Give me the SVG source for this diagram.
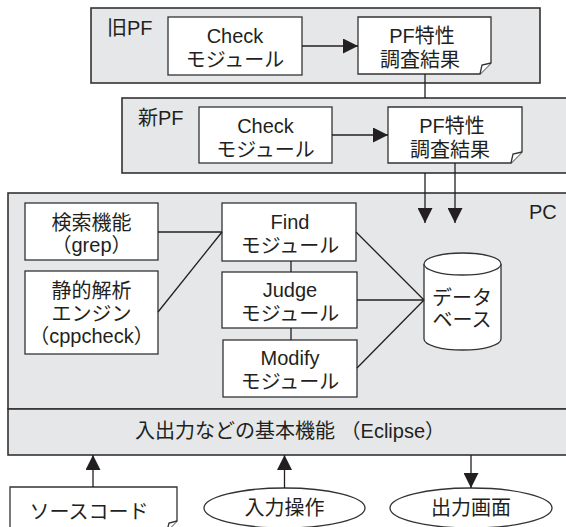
<svg xmlns="http://www.w3.org/2000/svg" width="566" height="527" viewBox="0 0 566 527">
<defs>
<style>
.frame{fill:#e6e7e8;stroke:#333;stroke-width:1.6}
.box{fill:#fff;stroke:#333;stroke-width:1.3}
.t{font-family:"Liberation Sans","Noto Sans CJK JP",sans-serif;font-size:20px;fill:#231f20;text-anchor:middle}
.lbl{text-anchor:start}
.c{fill:none;stroke:#231f20;stroke-width:1.3}
</style>
<marker id="ah" viewBox="0 0 10 10" refX="10" refY="5" markerUnits="userSpaceOnUse" markerWidth="15" markerHeight="15" orient="auto">
<path d="M0,0 L10,5 L0,10 z" fill="#231f20"/>
</marker>
</defs>
<rect width="566" height="527" fill="#fff"/>

<g id="oldpf">
<rect class="frame" x="91" y="8" width="449" height="75"/>
<text class="t lbl" x="107" y="35">旧PF</text>
<g id="oldpf-check">
<rect class="box" x="168" y="17" width="134" height="58"/>
<text class="t" x="235" y="43">Check</text>
<text class="t" x="235" y="67">モジュール</text>
</g>
<g id="oldpf-result">
<path class="box" d="M358,17 H491 V63 L480,74 H358 Z"/>
<path class="box" d="M480,74 L482,65 L491,63"/>
<text class="t" x="422" y="43">PF特性</text>
<text class="t" x="420" y="67">調査結果</text>
</g>
</g>

<g id="newpf">
<rect class="frame" x="122" y="98" width="450" height="75"/>
<text class="t lbl" x="138" y="125">新PF</text>
<g id="newpf-check">
<rect class="box" x="199" y="107" width="133" height="56"/>
<text class="t" x="265.5" y="133">Check</text>
<text class="t" x="265.5" y="157">モジュール</text>
</g>
<g id="newpf-result">
<path class="box" d="M388,107 H522 V152 L511,163 H388 Z"/>
<path class="box" d="M511,163 L513,154 L522,152"/>
<text class="t" x="452" y="133">PF特性</text>
<text class="t" x="450" y="157">調査結果</text>
</g>
</g>

<g id="pc">
<rect class="frame" x="8" y="193" width="564" height="216"/>
<text class="t lbl" x="529" y="219">PC</text>
</g>

<g id="eclipse">
<rect class="frame" x="8" y="409" width="564" height="46"/>
<text class="t" x="290" y="438">入出力などの基本機能 （Eclipse）</text>
</g>

<g id="grep">
<rect class="box" x="25" y="203" width="133" height="57"/>
<text class="t" x="91.5" y="230">検索機能</text>
<text class="t" x="91.5" y="252">（grep）</text>
</g>

<g id="cppcheck">
<rect class="box" x="25" y="271" width="133" height="83"/>
<text class="t" x="91.5" y="298">静的解析</text>
<text class="t" x="91.5" y="321">エンジン</text>
<text class="t" x="91.5" y="343">（cppcheck）</text>
</g>

<g id="find">
<rect class="box" x="222" y="203" width="134" height="58"/>
<text class="t" x="290" y="229">Find</text>
<text class="t" x="290" y="253">モジュール</text>
</g>

<g id="judge">
<rect class="box" x="222" y="272" width="135" height="56"/>
<text class="t" x="290" y="297">Judge</text>
<text class="t" x="290" y="321">モジュール</text>
</g>

<g id="modify">
<rect class="box" x="223" y="340" width="134" height="57"/>
<text class="t" x="290" y="365">Modify</text>
<text class="t" x="290" y="389">モジュール</text>
</g>

<g id="database">
<path class="box" d="M424,264 V339 A38.5,11 0 0 0 501,339 V264"/>
<ellipse class="box" cx="462.5" cy="264" rx="38.5" ry="11"/>
<text class="t" x="462" y="305">データ</text>
<text class="t" x="462" y="327">ベース</text>
</g>

<g id="source">
<path class="box" d="M10,487 H177 V521 L167,531 H10 Z"/>
<path class="box" d="M167,531 L169,523 L177,521"/>
<text class="t" x="89" y="519">ソースコード</text>
</g>

<g id="input">
<ellipse class="box" cx="284.5" cy="508" rx="80.5" ry="20"/>
<text class="t" x="284.5" y="515">入力操作</text>
</g>

<g id="output">
<ellipse class="box" cx="471" cy="508" rx="81" ry="20"/>
<text class="t" x="471" y="515">出力画面</text>
</g>

<g id="connectors">
<line class="c" x1="302" y1="46" x2="358" y2="46" marker-end="url(#ah)"/>
<line class="c" x1="332" y1="135" x2="388" y2="135" marker-end="url(#ah)"/>
<line class="c" x1="425" y1="74" x2="425" y2="98"/>
<line class="c" x1="425" y1="173" x2="425" y2="223" marker-end="url(#ah)"/>
<line class="c" x1="455" y1="163" x2="455" y2="223" marker-end="url(#ah)"/>
<line class="c" x1="158" y1="232" x2="222" y2="232"/>
<line class="c" x1="222" y1="232" x2="158" y2="312"/>
<line class="c" x1="291" y1="261" x2="291" y2="272"/>
<line class="c" x1="291" y1="328" x2="291" y2="340"/>
<line class="c" x1="356" y1="232" x2="424" y2="300"/>
<line class="c" x1="357" y1="300" x2="424" y2="300"/>
<line class="c" x1="357" y1="368" x2="424" y2="300"/>
<line class="c" x1="93" y1="487" x2="93" y2="455" marker-end="url(#ah)"/>
<line class="c" x1="284.5" y1="488" x2="284.5" y2="455" marker-end="url(#ah)"/>
<line class="c" x1="471" y1="455" x2="471" y2="488" marker-end="url(#ah)"/>
</g>
</svg>
